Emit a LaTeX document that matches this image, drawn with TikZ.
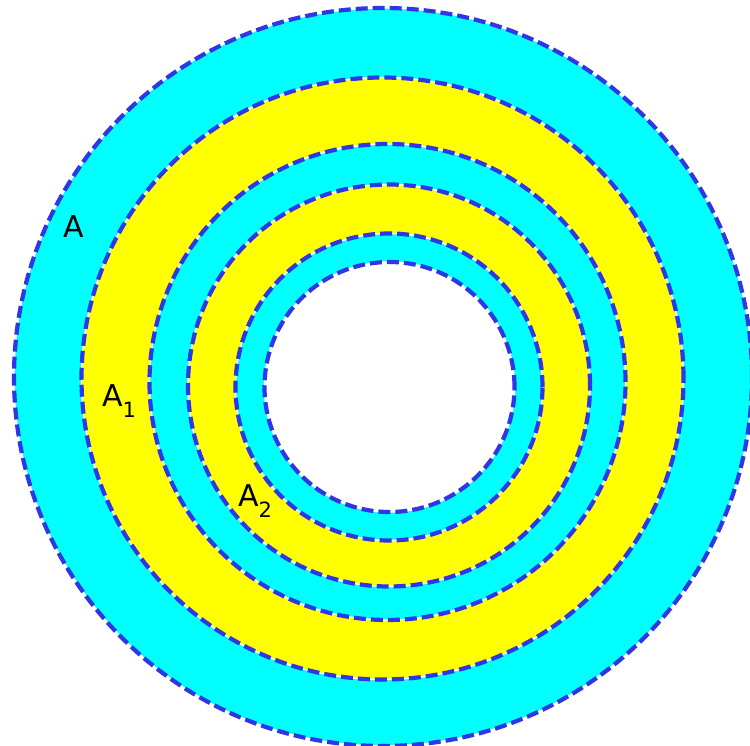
\documentclass[tikz,border=0pt]{standalone}
\usepackage{fontspec}
\setmainfont{DejaVu Sans}
\definecolor{ringcyan}{RGB}{0,255,255}
\definecolor{ringyellow}{RGB}{255,255,0}
\definecolor{ringblue}{RGB}{45,55,230}
\begin{document}
\begin{tikzpicture}[x=1pt,y=-1pt,
  ringline/.style={draw=ringblue,line width=4.2pt,dash pattern=on 12pt off 5pt},
  gapline/.style={draw=white,line width=1.4pt},
  lbl/.style={inner sep=0pt,anchor=base west,font=\fontsize{30}{30}\selectfont}]
\useasboundingbox (0,0) rectangle (750,746);
\clip (0,0) rectangle (750,746);
\fill[white] (0,0) rectangle (750,746);
% fills
\fill[ringcyan]   (383,377) circle [radius=369pt];
\fill[ringyellow] (382.5,378.5) circle [radius=301pt];
\fill[ringcyan]   (387.5,382) circle [radius=238pt];
\fill[ringyellow] (389,385.5) circle [radius=201pt];
\fill[ringcyan]   (389,387) circle [radius=153.5pt];
\fill[white]      (389.5,387) circle [radius=125pt];
% outlines
\foreach \cx/\cy/\r in {383/377/369, 382.5/378.5/301, 387.5/382/238, 389/385.5/201, 389/387/153.5, 389.5/387/125}{
  \draw[gapline] (\cx,\cy) circle [radius=\r pt];
  \draw[ringline] (\cx,\cy) circle [radius=\r pt];
}
% labels
\node[lbl] (a)  at (63,238) {A};
\node[lbl] (a1) at (102,406) {A\raisebox{-11pt}{\fontsize{21}{21}\selectfont 1}};
\node[lbl] (a2) at (238,506) {A\raisebox{-11pt}{\fontsize{21}{21}\selectfont 2}};
\end{tikzpicture}
\end{document}
